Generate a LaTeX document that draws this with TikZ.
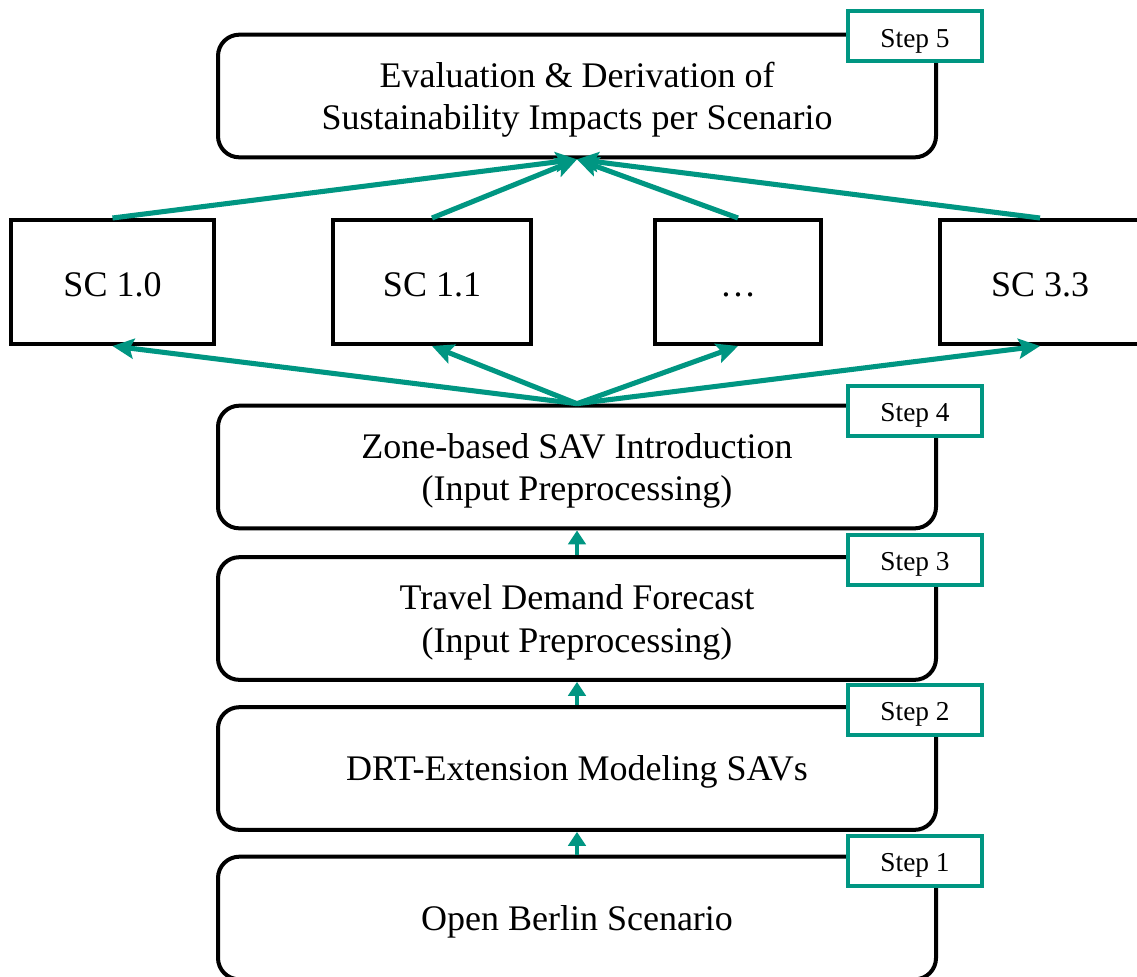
\documentclass[tikz,border=0pt]{standalone}
\usepackage{fontspec}
\setmainfont{Liberation Serif}
\usetikzlibrary{arrows.meta}
\definecolor{kitgreen}{RGB}{0,150,130}
\newcommand{\topstrut}{\rule{0pt}{24.5pt}}
\tikzset{
  px/.style={x=0.75pt,y=-0.75pt},
  stage/.style={draw=black,line width=3pt,rounded corners=16pt,fill=white,
    minimum width=538.5pt,minimum height=92pt,align=center,
    font=\fontsize{27}{32}\selectfont,inner sep=0pt},
  oneline/.style={stage,text height=24.5pt},
  scen/.style={draw=black,line width=3pt,fill=white,minimum height=93pt,
    align=center,font=\fontsize{27}{32}\selectfont,inner sep=0pt,
    text height=24pt,text depth=3pt},
  tag/.style={draw=kitgreen,line width=3pt,fill=white,minimum width=100.5pt,
    minimum height=37.5pt,font=\fontsize{20.5}{23}\selectfont,inner sep=0pt,
    text height=18pt,text depth=1.5pt},
  fan/.style={draw=kitgreen,line width=3.8pt,
    -{Stealth[inset=3pt,length=16pt,width=15pt]}},
  lift/.style={draw=kitgreen,line width=3.4pt,
    -{Triangle[length=10.5pt,width=13pt]}}
}
\begin{document}
\begin{tikzpicture}[px]
\useasboundingbox (0,0) rectangle (1137,976);
\clip (0,0) rectangle (1137,976);

% processing chain
\node[stage] (eval) at (577,96) {\topstrut Evaluation \& Derivation of\\Sustainability Impacts per Scenario};
\node[stage] (zone) at (577,467) {\topstrut Zone-based SAV Introduction\\(Input Preprocessing)};
\node[stage] (travel) at (577,618.5) {\topstrut Travel Demand Forecast\\(Input Preprocessing)};
\node[oneline] (drt) at (577,768.5) {DRT-Extension Modeling SAVs};
\node[oneline] (berlin) at (577,918) {Open Berlin Scenario};

% scenarios
\node[scen,minimum width=152pt] (sc10) at (112.5,282) {SC 1.0};
\node[scen,minimum width=148.5pt] (sc11) at (432,282) {SC 1.1};
\node[scen,minimum width=124.5pt] (scdots) at (738,282) {…};
\node[scen,minimum width=150pt] (sc33) at (1040,282) {SC 3.3};

% step tags
\node[tag] (s5) at (915,36) {Step 5};
\node[tag] (s4) at (915,410.5) {Step 4};
\node[tag] (s3) at (915,559.5) {Step 3};
\node[tag] (s2) at (915,709.5) {Step 2};
\node[tag] (s1) at (915,860.5) {Step 1};

% zone setup feeds every scenario
\foreach \s in {sc10,sc11,scdots,sc33}
  \draw[fan] (zone.north) -- (\s.south);
% every scenario feeds the evaluation
\foreach \s in {sc10,sc11,scdots,sc33}
  \draw[fan] (\s.north) -- (eval.south);

% chain arrows
\draw[lift] (berlin.north) -- (drt.south);
\draw[lift] (drt.north) -- (travel.south);
\draw[lift] (travel.north) -- (zone.south);
\end{tikzpicture}
\end{document}
